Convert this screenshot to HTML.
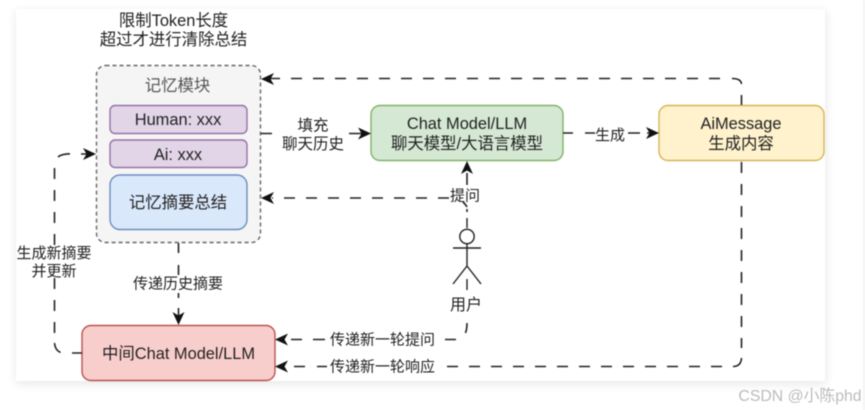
<!DOCTYPE html>
<html>
<head>
<meta charset="utf-8">
<style>
html,body{margin:0;padding:0;background:#fff;width:865px;height:410px;overflow:hidden}
svg{display:block;filter:blur(0.45px)}
text{font-family:"Liberation Sans","Noto Sans CJK SC",sans-serif;font-size:16.4px;fill:#222;text-anchor:middle}
.l{font-size:15px}
.d{fill:none;stroke:#222;stroke-width:1.6;stroke-dasharray:11 11}
.n{fill:none;stroke:#222;stroke-width:1.6}
.h{fill:#111;stroke:none}
</style>
</head>
<body>
<svg width="865" height="410" viewBox="0 0 865 410" xmlns="http://www.w3.org/2000/svg">
<defs>
<filter id="s" x="-5%" y="-5%" width="110%" height="115%"><feGaussianBlur stdDeviation="5"/></filter>
</defs>
<rect x="16" y="11" width="810" height="373" fill="#000" opacity="0.09" filter="url(#s)"/>
<rect x="16" y="9" width="809" height="372" fill="#fff"/>
<rect x="863" y="0" width="2" height="410" fill="#f4f4f4"/>

<text x="173.500" y="26">限制Token长度</text>
<text x="173.500" y="45">超过才进行清除总结</text>

<rect x="96.500" y="65.500" width="164" height="177" rx="9" fill="#f5f5f5" stroke="#666" stroke-width="1.4" stroke-dasharray="4 3"/>
<text x="177.500" y="91" style="fill:#555">记忆模块</text>
<rect x="110" y="105.500" width="137" height="28" rx="5" fill="#e1d5e7" stroke="#9673a6" stroke-width="1.4"/>
<text x="178" y="125">Human: xxx</text>
<rect x="110" y="140" width="137" height="27.500" rx="5" fill="#e1d5e7" stroke="#9673a6" stroke-width="1.4"/>
<text x="178" y="160">Ai: xxx</text>
<rect x="110" y="175" width="137" height="54.500" rx="10" fill="#dae8fc" stroke="#6c8ebf" stroke-width="1.4"/>
<text x="178" y="208">记忆摘要总结</text>

<rect x="371" y="105.500" width="192" height="55" rx="9" fill="#d5e8d4" stroke="#82b366" stroke-width="1.4"/>
<text x="467" y="129">Chat Model/LLM</text>
<text x="467" y="149">聊天模型/大语言模型</text>

<rect x="659" y="105.500" width="165" height="55" rx="9" fill="#fff2cc" stroke="#d6b656" stroke-width="1.4"/>
<text x="741" y="129">AiMessage</text>
<text x="741" y="149">生成内容</text>

<rect x="82" y="325.500" width="193" height="55" rx="9" fill="#f8cecc" stroke="#b85450" stroke-width="1.4"/>
<text x="178.500" y="359">中间Chat Model/LLM</text>

<!-- top return -->
<path class="n" d="M741.500 105V95M741.500 84Q741 78.500 732 78.500"/>
<path class="d" d="M720 78.500H270"/>
<path class="h" d="M261 79l13-6-3.500 6 3.500 6z"/>
<!-- fill history -->
<path class="n" d="M261 133.500H272M349 133.500H362"/>
<path class="h" d="M371 133.500l-13-6 3.500 6-3.500 6z"/>
<text x="313" y="130.500" style="font-size:15.500px">填充</text>
<text x="313" y="149" style="font-size:15.500px">聊天历史</text>
<!-- generate -->
<path class="n" d="M563 133H573M585 133H595M628 133H640M647 133H652"/>
<path class="h" d="M659 133l-13-6 3.500 6-3.500 6z"/>
<text x="610" y="140" class="l">生成</text>
<!-- ask branch -->
<path class="d" d="M449 198H272"/>
<path class="h" d="M261 198l13-6-3.500 6 3.500 6z"/>
<path class="n" d="M467 185V173"/>
<path class="h" d="M467 161l-6 13 6-3.500 6 3.500z"/>
<text x="465" y="200.500" class="l">提问</text>
<path class="n" d="M463 202Q466 205 467 207M467 209V212"/>
<!-- actor -->
<path d="M467 218V228" stroke="#222" stroke-width="1.400"/>
<circle cx="467" cy="236.500" r="7.200" fill="#fff" stroke="#222" stroke-width="1.400"/>
<path d="M467 244V266M453 248H481M467 266L453 284M467 266L481 284" fill="none" stroke="#222" stroke-width="1.400"/>
<path d="M467 279V290" stroke="#222" stroke-width="1.400"/>
<text x="466" y="310" style="font-size:16px">用户</text>
<!-- new question -->
<path class="n" d="M467 323Q467 329 465.500 333M445 339.500H456M313 339.500H325M291 339.500H302"/>
<path class="h" d="M275 339.500l13-6-3.500 6 3.500 6z"/>
<text x="382.500" y="344.500" class="l">传递新一轮提问</text>
<!-- new response -->
<path class="d" d="M741.500 162V348"/>
<path class="n" d="M741.500 358Q741 366.500 733 366.500M317 366.500H327M294 366.500H305"/>
<path class="d" d="M722 366.500H447"/>
<path class="h" d="M275 366.500l13-6-3.500 6 3.500 6z"/>
<text x="382.500" y="371.500" class="l">传递新一轮响应</text>
<!-- left update -->
<path class="d" d="M54.500 168V245M54.500 278V334"/>
<path class="n" d="M58 157Q61 154 70 153.800M81 154H88M54.500 343Q55 350 60.500 352.500M72 353H82"/>
<path class="h" d="M96 154l-13-6 3.500 6-3.500 6z"/>
<text x="54" y="258" class="l">生成新摘要</text>
<text x="54" y="276" class="l">并更新</text>
<!-- pass summary -->
<path class="n" d="M178.500 243V253M178.500 265V275M178.500 293V298M178.500 308V316"/>
<text x="178" y="288.500" class="l">传递历史摘要</text>
<path class="h" d="M178.500 325l-6-13 6 3.500 6-3.500z"/>

<text x="800" y="401" style="font-size:15.800px;fill:#bbb">CSDN @小陈phd</text>
</svg>
</body>
</html>
